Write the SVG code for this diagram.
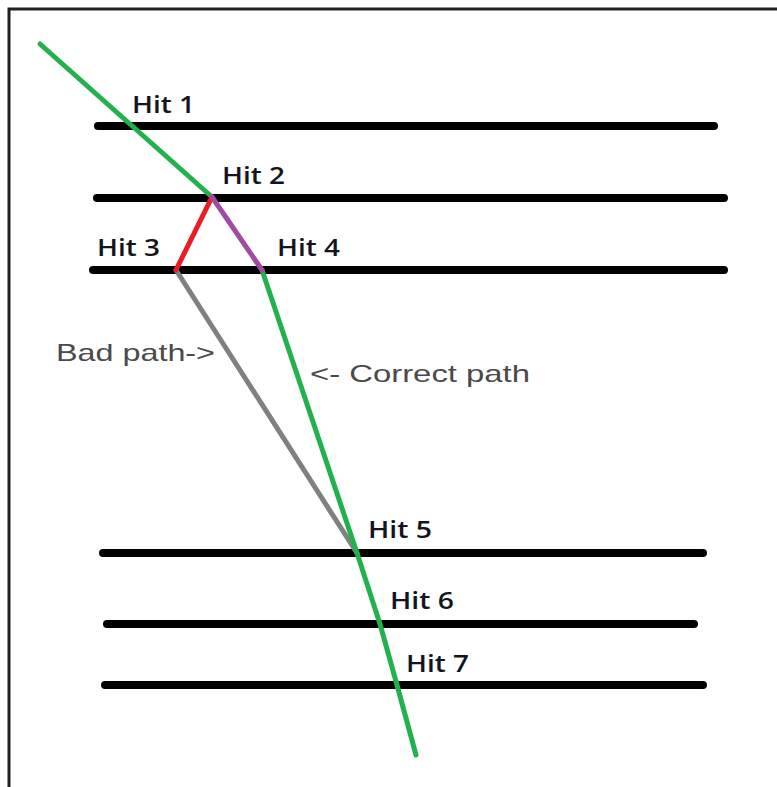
<svg xmlns="http://www.w3.org/2000/svg" width="777" height="787" viewBox="0 0 777 787">
<style>
.rail{stroke:#000;stroke-width:8;stroke-linecap:round;fill:none}
.hit{font-family:"Open Sans","Liberation Sans",sans-serif;font-size:23px;font-weight:600;fill:#14141e}
.note{font-family:"Liberation Sans",Arial,sans-serif;font-size:24px;fill:#4a4a4a}
.seg{fill:none;stroke-width:5;stroke-linecap:round;stroke-linejoin:round}
</style>
<rect x="0" y="0" width="777" height="787" fill="#fff"/>
<g id="frame">
<path d="M9 787 V9 H777" fill="none" stroke="#231f20" stroke-width="3"/>
</g>
<g id="rails">
<line class="rail" x1="98" y1="126" x2="714" y2="126"/>
<line class="rail" x1="97" y1="198" x2="724" y2="198"/>
<line class="rail" x1="93" y1="270" x2="724" y2="270"/>
<line class="rail" x1="103" y1="553" x2="703" y2="553"/>
<line class="rail" x1="107" y1="624" x2="694" y2="624"/>
<line class="rail" x1="105" y1="685" x2="703" y2="685"/>
</g>
<g id="connectors">
<line class="seg" x1="176" y1="270" x2="357" y2="553" stroke="#808080" stroke-width="4"/>
<polyline class="seg" points="40,44 212,197" stroke="#22b14c"/>
<polyline class="seg" points="262,270 357,553 380,624 397,685 416,755" stroke="#22b14c"/>
<line class="seg" x1="212" y1="197" x2="176" y2="270" stroke="#ed1c24"/>
<line class="seg" x1="212" y1="197" x2="262" y2="270" stroke="#a349a4"/>
</g>
<g id="hit1"><text class="hit" x="132" y="113" textLength="63" lengthAdjust="spacingAndGlyphs">Hit 1</text></g>
<g id="hit2"><text class="hit" x="222" y="184" textLength="63" lengthAdjust="spacingAndGlyphs">Hit 2</text></g>
<g id="hit3"><text class="hit" x="97" y="256" textLength="63" lengthAdjust="spacingAndGlyphs">Hit 3</text></g>
<g id="hit4"><text class="hit" x="277" y="256" textLength="63" lengthAdjust="spacingAndGlyphs">Hit 4</text></g>
<g id="hit5"><text class="hit" x="368" y="538" textLength="64" lengthAdjust="spacingAndGlyphs">Hit 5</text></g>
<g id="hit6"><text class="hit" x="390" y="609" textLength="64" lengthAdjust="spacingAndGlyphs">Hit 6</text></g>
<g id="hit7"><text class="hit" x="406" y="672" textLength="63" lengthAdjust="spacingAndGlyphs">Hit 7</text></g>
<g id="badpath"><text class="note" x="56" y="361" textLength="159" lengthAdjust="spacingAndGlyphs">Bad path-&gt;</text></g>
<g id="correctpath"><text class="note" x="310" y="382" textLength="220" lengthAdjust="spacingAndGlyphs">&lt;- Correct path</text></g>
</svg>
